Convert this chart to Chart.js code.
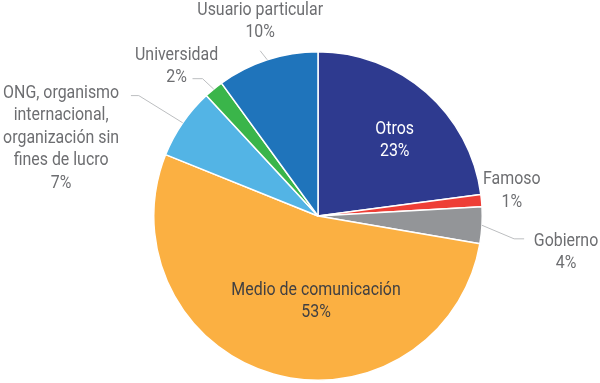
<!DOCTYPE html>
<html>
<head>
<meta charset="utf-8">
<script src="https://cdn.jsdelivr.net/npm/chart.js@4.4.1/dist/chart.umd.min.js"></script>
<style>
  html, body { margin: 0; padding: 0; background: #fff; }
  #wrap { width: 600px; height: 383px; }
</style>
</head>
<body>
<div id="wrap"><canvas id="pie"></canvas></div>
<script>
// data (clockwise from 12 o'clock)
const categories = ['Otros', 'Famoso', 'Gobierno', 'Medio de comunicación',
  'ONG, organismo internacional, organización sin fines de lucro', 'Universidad', 'Usuario particular']
const shares = [22.9, 1.2, 3.6, 53.4, 7.0, 1.9, 10.0]
const shownPct = ['23%', '1%', '4%', '53%', '7%', '2%', '10%']
const labelLines = [
  ['Otros'], ['Famoso'], ['Gobierno'], ['Medio de comunicación'],
  ['ONG, organismo', 'internacional,', 'organización sin', 'fines de lucro'],
  ['Universidad'], ['Usuario particular']
]
const colors = ['#2e3a8f', '#ee3e36', '#939598', '#fbb042', '#53b4e5', '#3ab54a', '#1f74bb']

// no condensed font installed, so squeeze Roboto sideways
const FONT = '18.5px Roboto, sans-serif'
const SQUEEZE = 0.86

// where the text goes, in radius units from the pie centre, and the leader lines
const place = [
  { x: 0.467, y: -0.461, color: '#ffffff' },
  { x: 1.18, y: -0.152, color: '#6d6e71' },
  { x: 1.51, y: 0.221, color: '#6d6e71', line: [[1.194, 0.139], [1.255, 0.139]] },
  { x: -0.012, y: 0.52, color: '#414042' },
  { x: -1.564, y: -0.473, color: '#6d6e71', line: [[-1.091, -0.733], [-1.139, -0.733]] },
  { x: -0.861, y: -0.912, color: '#6d6e71', line: [[-0.703, -0.836], [-0.764, -0.836]] },
  { x: -0.352, y: -1.185, color: '#6d6e71', line: [[-0.352, -1.006]] }
]

const sliceLabels = {
  id: 'sliceLabels',
  afterDatasetsDraw(chart) {
    const ctx = chart.ctx
    const arcs = chart.getDatasetMeta(0).data
    ctx.save()
    ctx.font = FONT
    ctx.textAlign = 'center'
    ctx.textBaseline = 'middle'
    arcs.forEach((arc, i) => {
      const p = place[i]
      const r = arc.outerRadius
      const cx = arc.x, cy = arc.y
      if (p.line) {
        const mid = (arc.startAngle + arc.endAngle) / 2
        ctx.beginPath()
        ctx.strokeStyle = '#bcbec0'
        ctx.lineWidth = 1
        ctx.moveTo(cx + Math.cos(mid) * r, cy + Math.sin(mid) * r)
        p.line.forEach(pt => ctx.lineTo(cx + pt[0] * r, cy + pt[1] * r))
        ctx.stroke()
      }
      const lines = labelLines[i].concat([shownPct[i]])
      const lh = 22.5
      const tx = cx + p.x * r
      let ty = cy + p.y * r - (lines.length - 1) * lh / 2
      ctx.fillStyle = p.color
      lines.forEach(t => {
        ctx.save()
        ctx.translate(tx, ty)
        ctx.scale(SQUEEZE, 1)
        ctx.fillText(t, 0, 0)
        ctx.restore()
        ty += lh
      })
    })
    ctx.restore()
  }
}

new Chart(document.getElementById('pie'), {
  type: 'pie',
  data: {
    labels: categories,
    datasets: [{
      data: shares,
      backgroundColor: colors,
      borderColor: '#ffffff',
      borderWidth: 1.5
    }]
  },
  options: {
    responsive: true,
    maintainAspectRatio: false,
    animation: false,
    layout: { padding: { top: 51, bottom: 2, left: 36, right: 0 } },
    plugins: {
      legend: { display: false },
      tooltip: { enabled: false }
    }
  },
  plugins: [sliceLabels]
})
</script>
</body>
</html>
